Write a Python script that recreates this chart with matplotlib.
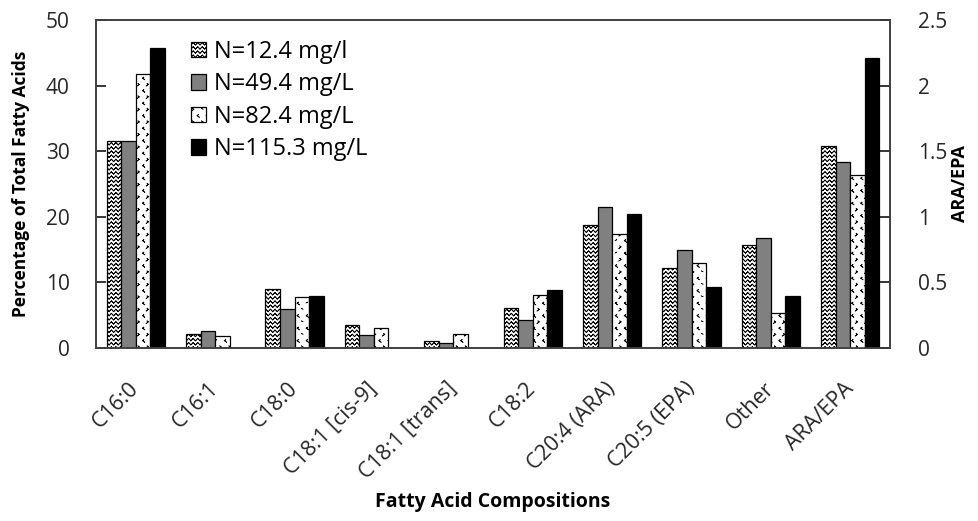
import numpy as np
import matplotlib
matplotlib.use('Agg')
import matplotlib.pyplot as plt
import matplotlib.hatch as mhatch
from matplotlib.path import Path

categories = ['C16:0', 'C16:1', 'C18:0', 'C18:1 [cis-9]', 'C18:1 [trans]',
              'C18:2', 'C20:4 (ARA)', 'C20:5 (EPA)', 'Other', 'ARA/EPA']
series_labels = ['N=12.4 mg/l', 'N=49.4 mg/L', 'N=82.4 mg/L', 'N=115.3 mg/L']

# percentage of total fatty acids (first nine categories)
n_12 = [31.5, 2.2, 9.0, 3.5, 1.0, 6.1, 18.8, 12.2, 15.7]
n_49 = [31.5, 2.6, 5.9, 2.0, 0.8, 4.2, 21.5, 15.0, 16.8]
n_82 = [41.7, 1.8, 7.7, 3.0, 2.2, 8.1, 17.4, 13.0, 5.3]
n_115 = [45.8, 0.0, 7.9, 0.0, 0.0, 8.8, 20.4, 9.3, 7.9]

# ARA/EPA ratio, right axis
ratio = [1.54, 1.42, 1.32, 2.21]


# two extra hatch patterns: zigzag rows and little > < marks.
# Agg fills hatch paths as well as stroking them, so every stroke
# walks back over itself to keep the filled area empty.
class ZigZag(mhatch.HatchPatternBase):
    def __init__(self, hatch, density):
        self.rows = hatch.count('*') * 24
        self.teeth = 22
        n = 2 * self.teeth + 1
        self.num_vertices = self.rows * (2 * n - 1)

    def set_vertices_and_codes(self, vertices, codes):
        n = 2 * self.teeth + 1
        xs = np.linspace(0, 1, n)
        amp = 0.3 / self.rows
        dy = np.where(np.arange(n) % 2 == 0, -amp, amp)
        xs = np.concatenate([xs, xs[-2::-1]])
        dy = np.concatenate([dy, dy[-2::-1]])
        m = len(xs)
        for k in range(self.rows):
            y = (k + 0.5) / self.rows
            vertices[k * m:(k + 1) * m, 0] = xs
            vertices[k * m:(k + 1) * m, 1] = y + dy
            codes[k * m] = Path.MOVETO
            codes[k * m + 1:(k + 1) * m] = Path.LINETO


class Chevrons(mhatch.HatchPatternBase):
    def __init__(self, hatch, density):
        self.cols = hatch.count('O') * 11
        self.rows = hatch.count('O') * 8
        self.num_vertices = self.cols * self.rows * 2 * 5

    def set_vertices_and_codes(self, vertices, codes):
        w, h = 0.012, 0.018
        i = 0
        for r in range(self.rows):
            for c in range(self.cols):
                x0, y0 = (c + 0.25) / self.cols, (r + 0.25) / self.rows
                x1, y1 = (c + 0.75) / self.cols, (r + 0.75) / self.rows
                right = [(x0 - w / 2, y0 + h / 2), (x0 + w / 2, y0), (x0 - w / 2, y0 - h / 2)]
                left = [(x1 + w / 2, y1 + h / 2), (x1 - w / 2, y1), (x1 + w / 2, y1 - h / 2)]
                for pts in (right, left):
                    vertices[i:i + 5] = pts + pts[-2::-1]
                    codes[i] = Path.MOVETO
                    codes[i + 1:i + 5] = Path.LINETO
                    i += 5


mhatch._hatch_types = [t for t in mhatch._hatch_types
                       if t not in (mhatch.Stars, mhatch.LargeCircles)] + [ZigZag, Chevrons]

plt.rcParams['font.family'] = ['Open Sans', 'DejaVu Sans']
plt.rcParams['hatch.linewidth'] = 0.55

styles = [
    dict(facecolor='white', hatch='*'),
    dict(facecolor='#808080'),
    dict(facecolor='white', hatch='O'),
    dict(facecolor='black'),
]

fig = plt.figure(figsize=(9.79, 5.21), dpi=100)
ax = fig.add_axes([96 / 979, 1 - 348 / 521, 794 / 979, 328 / 521])
ax2 = ax.twinx()

x = np.arange(len(categories))
width = 0.183
left_data = [n_12, n_49, n_82, n_115]
handles = []
for i, (vals, st) in enumerate(zip(left_data, styles)):
    off = (i - 1.5) * width
    b = ax.bar(x[:-1] + off, vals, width, edgecolor='black', linewidth=0.9,
               label=series_labels[i], **st)
    handles.append(b)
    ax2.bar(x[-1] + off, ratio[i], width, edgecolor='black', linewidth=0.9, **st)

ax.set_xlim(-0.5, len(categories) - 0.5)
ax.set_ylim(0, 50)
ax2.set_ylim(0, 2.5)
ax.set_yticks(np.arange(0, 51, 10))
ax2.set_yticks([0, 0.5, 1, 1.5, 2, 2.5], ['0', '0.5', '1', '1.5', '2', '2.5'])

ax.set_xticks(x, categories, rotation=45, ha='right', va='center',
              rotation_mode='anchor')
ax.tick_params(axis='x', length=0, pad=27, labelsize=15.5, colors='#262626')
ax.tick_params(axis='y', direction='in', length=7, width=1.1, pad=19,
               labelsize=15, labelcolor='#262626')
ax2.tick_params(axis='y', direction='in', length=7, width=1.1, pad=20,
                labelsize=15, labelcolor='#262626')

for a in (ax, ax2):
    for s in a.spines.values():
        s.set_color('#404040')
        s.set_linewidth(1.2)

ax.set_ylabel('Percentage of Total Fatty Acids', fontsize=12.5, fontweight='bold',
              labelpad=11)
ax2.set_ylabel('ARA/EPA', fontsize=13, fontweight='bold', labelpad=3)
ax.set_xlabel('Fatty Acid Compositions', fontsize=14, fontweight='bold', labelpad=6)

ax.legend(handles=handles, loc='upper left', bbox_to_anchor=(0.12, 0.94),
          frameon=False, fontsize=17, handlelength=0.62, handleheight=0.62,
          handletextpad=0.35, labelspacing=0.36, borderpad=0, borderaxespad=0)

fig.savefig('out.png', dpi=100)
